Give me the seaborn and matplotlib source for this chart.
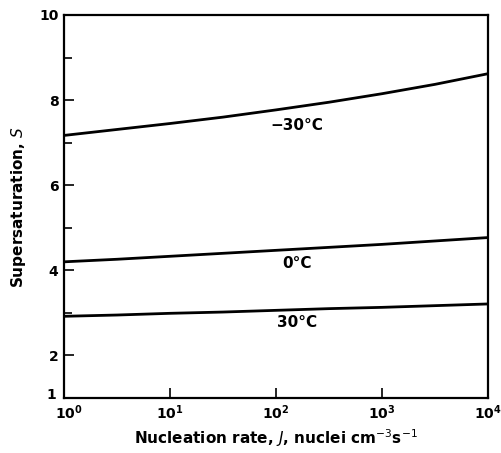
import matplotlib
matplotlib.use('Agg')
import matplotlib.pyplot as plt
import matplotlib.transforms as mtransforms
import seaborn as sns
import pandas as pd
import numpy as np

# values (x = nucleation rate, y = supersaturation)
rate = [1, 3.16, 10, 31.6, 100, 316, 1000, 3162, 10000]
s_minus30 = [7.17, 7.31, 7.45, 7.60, 7.77, 7.95, 8.15, 8.37, 8.62]
s_zero = [4.20, 4.26, 4.33, 4.40, 4.47, 4.54, 4.61, 4.69, 4.77]
s_plus30 = [2.92, 2.95, 2.99, 3.02, 3.06, 3.10, 3.13, 3.17, 3.21]
curve_labels = ['\u221230\u00b0C', '0\u00b0C', '30\u00b0C']
xtick_pos = [1, 10, 100, 1000, 10000]
xtick_labels = [r'$\mathbf{10^{0}}$', r'$\mathbf{10^{1}}$', r'$\mathbf{10^{2}}$',
                r'$\mathbf{10^{3}}$', r'$\mathbf{10^{4}}$']

df = pd.concat([
    pd.DataFrame({'rate': rate, 's': s, 'T': lab})
    for s, lab in zip([s_minus30, s_zero, s_plus30], curve_labels)
])

sns.set_theme(style='ticks')
plt.rcParams['font.family'] = ['DejaVu Sans']
plt.rcParams['text.color'] = 'black'
plt.rcParams['axes.labelcolor'] = 'black'
plt.rcParams['xtick.color'] = 'black'
plt.rcParams['ytick.color'] = 'black'

fig = plt.figure(figsize=(5.02, 4.53), dpi=100)
ax = fig.add_axes([0.1275, 0.1214, 0.8445, 0.8455])

sns.lineplot(data=df, x='rate', y='s', hue='T', palette=['black'] * 3,
             linewidth=2.0, legend=False, ax=ax)

ax.set_xscale('log')
ax.set_xlim(1, 1e4)
ax.set_ylim(1, 10)
ax.set_xticks(xtick_pos, xtick_labels)
ax.xaxis.set_minor_locator(matplotlib.ticker.NullLocator())
ax.set_yticks([1, 2, 4, 6, 8, 10], ['1', '2', '4', '6', '8', '10'])
ax.set_yticks([3, 5, 7, 9], minor=True)
ax.tick_params(which='both', direction='in', length=7, width=1.2,
               labelsize=10, pad=4)
ax.tick_params(axis='y', which='minor', length=6)
for t in ax.get_yticklabels():
    t.set_fontweight('bold')
for sp in ax.spines.values():
    sp.set_linewidth(1.6)
    sp.set_color('black')

# corner labels nudged apart like in the original
ylab1 = ax.get_yticklabels()[0]
ylab1.set_transform(ylab1.get_transform() +
                    mtransforms.ScaledTranslation(-0.02, 0.05, fig.dpi_scale_trans))
xlab0 = ax.get_xticklabels()[0]
xlab0.set_transform(xlab0.get_transform() +
                    mtransforms.ScaledTranslation(0.05, 0, fig.dpi_scale_trans))

# curve labels, placed under each line
label_y = [7.4, 4.15, 2.78]
for lab, y in zip(curve_labels, label_y):
    ax.text(158, y, lab, ha='center', va='center', fontsize=11,
            fontweight='semibold')

ax.set_xlabel(r'Nucleation rate, $J$, nuclei cm$^{-3}$s$^{-1}$',
              fontsize=11, fontweight='semibold', labelpad=4)
ax.set_ylabel('Supersaturation, $S$', fontsize=11, fontweight='semibold',
              labelpad=8)

fig.savefig('out.png', dpi=100)
